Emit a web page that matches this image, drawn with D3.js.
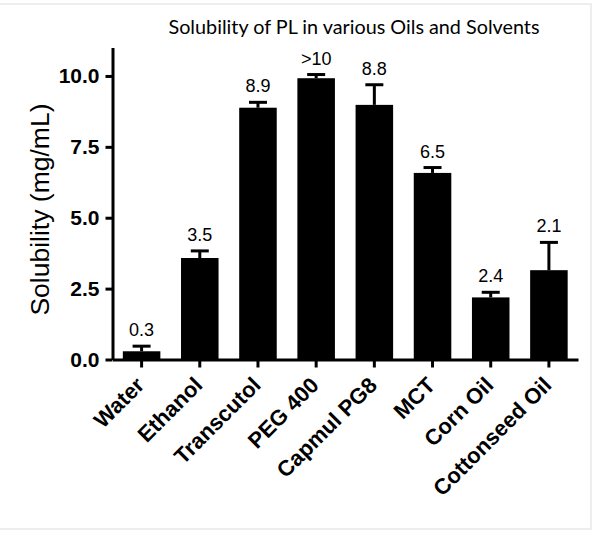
<!DOCTYPE html>
<html>
<head>
<meta charset="utf-8">
<script src="https://cdn.jsdelivr.net/npm/d3@7"></script>
<style>
  body { margin: 0; background: #fff; }
  svg { display: block; }
</style>
</head>
<body>
<script>
const categories = ['Water', 'Ethanol', 'Transcutol', 'PEG 400', 'Capmul PG8', 'MCT', 'Corn Oil', 'Cottonseed Oil'];
const means = [0.29, 3.58, 8.88, 9.92, 8.98, 6.58, 2.19, 3.15];
const errors = [0.18, 0.25, 0.19, 0.13, 0.71, 0.19, 0.18, 0.98];
const valueLabels = ['0.3', '3.5', '8.9', '>10', '8.8', '6.5', '2.4', '2.1'];
const yTicks = [0, 2.5, 5, 7.5, 10];

const width = 600,
  height = 536,
  margin = {top: 47.6, right: 22, bottom: 176.5, left: 112.5};
const sans = 'Arial, "Liberation Sans", Arimo, sans-serif';

const data = categories.map((c, i) => ({name: c, mean: means[i], err: errors[i], label: valueLabels[i]}));

const svg = d3.select('body').append('svg')
  .attr('width', width)
  .attr('height', height);

// faint frame of the original picture
svg.append('path')
  .attr('d', 'M0,4H591V529H0')
  .attr('fill', 'none')
  .attr('stroke', '#eeeeee')
  .attr('stroke-width', 2);

const x = d3.scaleBand()
  .domain(categories)
  .range([margin.left, width - margin.right])
  .paddingInner(0.355)
  .paddingOuter(0.1775);

const y = d3.scaleLinear()
  .domain([0, 11])
  .range([height - margin.bottom, margin.top]);

svg.append('text')
  .attr('x', 354)
  .attr('y', 34)
  .attr('text-anchor', 'middle')
  .style('font-family', 'Lato, "Open Sans", sans-serif')
  .style('font-size', '19.8px')
  .text('Solubility of PL in various Oils and Solvents');

// bars
svg.append('g').selectAll('rect')
  .data(data)
  .enter().append('rect')
  .attr('x', d => x(d.name))
  .attr('y', d => y(d.mean))
  .attr('width', x.bandwidth())
  .attr('height', d => y(0) - y(d.mean))
  .attr('fill', '#000');

// error bars (upper only)
const eg = svg.append('g')
  .attr('stroke', '#000')
  .attr('stroke-width', 3);
eg.selectAll('line.stem')
  .data(data)
  .enter().append('line')
  .attr('class', 'stem')
  .attr('x1', d => x(d.name) + x.bandwidth() / 2)
  .attr('x2', d => x(d.name) + x.bandwidth() / 2)
  .attr('y1', d => y(d.mean))
  .attr('y2', d => y(d.mean + d.err));
eg.selectAll('line.cap')
  .data(data)
  .enter().append('line')
  .attr('class', 'cap')
  .attr('x1', d => x(d.name) + x.bandwidth() / 2 - 9)
  .attr('x2', d => x(d.name) + x.bandwidth() / 2 + 9)
  .attr('y1', d => y(d.mean + d.err))
  .attr('y2', d => y(d.mean + d.err));

// value labels
svg.append('g').selectAll('text')
  .data(data)
  .enter().append('text')
  .attr('x', d => x(d.name) + x.bandwidth() / 2)
  .attr('y', d => y(d.mean + d.err) - 10)
  .attr('text-anchor', 'middle')
  .style('font-family', sans)
  .style('font-size', '18px')
  .text(d => d.label);

// axes
const yAxis = svg.append('g')
  .attr('transform', `translate(${margin.left},0)`)
  .call(d3.axisLeft(y).tickValues(yTicks).tickFormat(d3.format('.1f')).tickSize(7).tickSizeOuter(0).tickPadding(6));

const xAxis = svg.append('g')
  .attr('transform', `translate(0,${y(0)})`)
  .call(d3.axisBottom(x).tickSize(8).tickSizeOuter(0));

[xAxis, yAxis].forEach(a => {
  a.selectAll('path, line')
    .attr('stroke', '#000')
    .attr('stroke-width', 3);
  a.selectAll('text')
    .attr('fill', '#000')
    .style('font-family', sans)
    .style('font-weight', 'bold');
});

yAxis.selectAll('text').style('font-size', '21px');

xAxis.selectAll('text')
  .attr('x', 0)
  .attr('y', 0)
  .attr('dy', 0)
  .attr('text-anchor', 'end')
  .style('font-size', '22px')
  .attr('transform', 'translate(4,27) rotate(-45)');

svg.append('text')
  .attr('transform', `translate(49,${(y(0) + y(11)) / 2 + 6}) rotate(-90)`)
  .attr('text-anchor', 'middle')
  .style('font-family', sans)
  .style('font-size', '26.5px')
  .text('Solubility (mg/mL)');
</script>
</body>
</html>
